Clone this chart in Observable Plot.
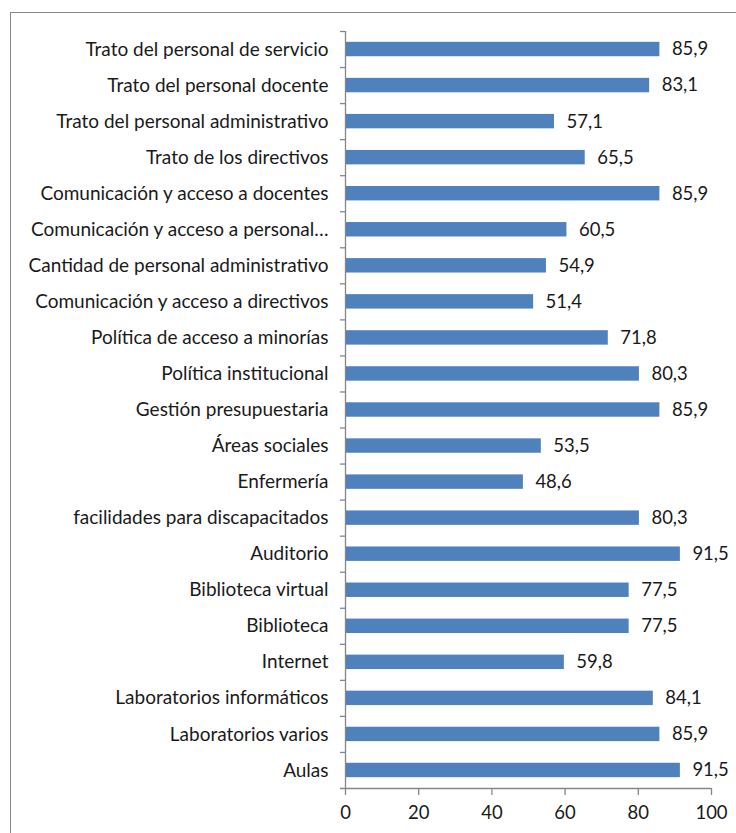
<!DOCTYPE html>
<html>
<head>
<meta charset="utf-8">
<script src="https://cdn.jsdelivr.net/npm/d3@7"></script>
<script src="https://cdn.jsdelivr.net/npm/@observablehq/plot@0.6"></script>
<style>
  html, body { margin: 0; padding: 0; background: #fff; }
  #wrap { position: relative; width: 736px; height: 833px; overflow: hidden; }
  #border { position: absolute; left: 10px; top: 12px; width: 900px; height: 1000px; border: 1.5px solid #868686; box-sizing: border-box; pointer-events: none; }
  #chart { position: absolute; left: 0; top: 0; }
</style>
</head>
<body>
<div id="wrap"><div id="chart"></div><div id="border"></div></div>
<script>
const categories = [
  "Trato del personal de servicio",
  "Trato del personal docente",
  "Trato del personal administrativo",
  "Trato de los directivos",
  "Comunicación y acceso a docentes",
  "Comunicación y acceso a personal…",
  "Cantidad de personal administrativo",
  "Comunicación y acceso a directivos",
  "Política de acceso a minorías",
  "Política institucional",
  "Gestión presupuestaria",
  "Áreas sociales",
  "Enfermería",
  "facilidades para discapacitados",
  "Auditorio",
  "Biblioteca virtual",
  "Biblioteca",
  "Internet",
  "Laboratorios informáticos",
  "Laboratorios varios",
  "Aulas"
];
const values = [85.9, 83.1, 57.1, 65.5, 85.9, 60.5, 54.9, 51.4, 71.8, 80.3, 85.9, 53.5, 48.6, 80.3, 91.5, 77.5, 77.5, 59.8, 84.1, 85.9, 91.5];
const xTicks = [0, 20, 40, 60, 80, 100];

const data = categories.map((c, i) => ({category: c, value: values[i]}));

const W = 736, H = 833;
const mTop = 31, mBottom = 45, mLeft = 345, mRight = 25;
const step = (H - mTop - mBottom) / categories.length;
const axisColor = "#868686";
const font = "Lato, 'Open Sans', sans-serif";

const chart = Plot.plot({
  width: W,
  height: H,
  marginTop: mTop,
  marginBottom: mBottom,
  marginLeft: mLeft,
  marginRight: mRight,
  style: {fontFamily: font, fontSize: "18px", color: "#1a1a1a", background: "transparent"},
  x: {domain: [0, 100], axis: null},
  y: {domain: categories, paddingInner: 0.6, paddingOuter: 0.3, round: false, axis: null},
  marks: [
    Plot.barX(data, {x: "value", y: "category", fill: "#4F81BD"}),
    Plot.text(data, {x: "value", y: "category", text: d => d.value.toFixed(1).replace(".", ","), textAnchor: "start", dx: 12, fontSize: 18.5, fill: "#1a1a1a"}),
    Plot.ruleX([0], {stroke: axisColor, strokeWidth: 1.3}),
    Plot.ruleY(categories, {y: d => d, x1: 0, x2: 0, insetLeft: -5, dy: -step / 2, stroke: axisColor, strokeWidth: 1.3}),
    Plot.ruleY([categories[categories.length - 1]], {y: d => d, x1: 0, x2: 100, insetLeft: -5, dy: step / 2, stroke: axisColor, strokeWidth: 1.3}),
    Plot.axisX({ticks: xTicks, tickSize: 7, tickPadding: 10, stroke: axisColor, strokeWidth: 1.3, fill: "#1a1a1a", fontSize: 18.5, tickFormat: d => String(d), label: null}),
    Plot.axisY({tickSize: 0, tickPadding: 17, fill: "#1a1a1a", fontSize: 19, label: null})
  ]
});
document.getElementById("chart").appendChild(chart);
</script>
</body>
</html>
